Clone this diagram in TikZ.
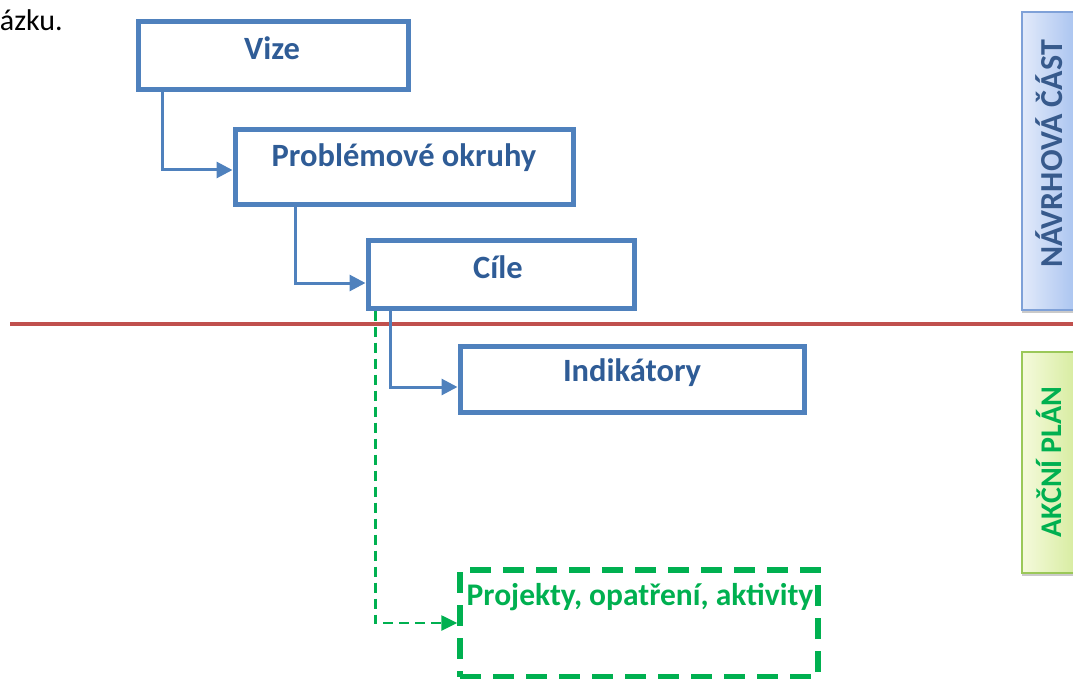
\documentclass[tikz,border=0pt]{standalone}
\usepackage{fontspec}
\setmainfont{Carlito}
\usetikzlibrary{arrows.meta,shadows}
\definecolor{boxblue}{HTML}{4F81BD}
\definecolor{txtblue}{HTML}{2F5C96}
\definecolor{sideblue}{HTML}{375A8C}
\definecolor{greenc}{HTML}{00B050}
\definecolor{redline}{HTML}{C0504D}
\tikzset{
  stagebox/.style={draw=boxblue, line width=5pt, inner sep=0pt},
  stagetext/.style={text=txtblue, font=\fontsize{32.5}{38}\selectfont\bfseries, inner sep=0pt},
  flow/.style={draw=boxblue, line width=3pt, -{Triangle[length=16pt,width=16pt]}},
  greenflow/.style={draw=greenc, line width=2.6pt, dash pattern=on 10pt off 6pt, -{Triangle[length=16pt,width=15pt]}},
  sidebox/.style={inner sep=0pt, line width=1.8pt},
}
\begin{document}
\begin{tikzpicture}[x=1pt,y=-1pt]
\useasboundingbox (0,0) rectangle (1073,679);
% top-left fragment
\node[anchor=east, font=\fontsize{30}{36}\selectfont, inner sep=0pt] (frag) at (63,20) {ázku.};
% stage boxes
\node[stagebox, minimum width=270pt, minimum height=68pt] (vize) at (273,56) {};
\node[stagebox, minimum width=338pt, minimum height=75pt] (probl) at (404,167.5) {};
\node[stagebox, minimum width=266pt, minimum height=68pt] (cile) at (501,274) {};
\node[stagebox, minimum width=344pt, minimum height=66pt] (indik) at (632,379) {};
\node[draw=greenc, line width=5.5pt, dash pattern=on 21pt off 12pt, minimum width=358pt, minimum height=107pt, inner sep=0pt] (proj) at (639,623.5) {};
% texts
\node[stagetext] (tvize) at (272,48) {Vize};
\node[stagetext] (tprobl) at (404,158) {Problémové okruhy};
\node[stagetext] (tcile) at (498,267) {Cíle};
\node[stagetext] (tindik) at (632,373) {Indikátory};
\node[stagetext, text=greenc, font=\fontsize{31.5}{38}\selectfont\bfseries] (tproj) at (640,597) {Projekty, opatření, aktivity};
% red divider
\coordinate (rl) at (10,324);
\coordinate (rr) at (1073,324);
\draw[redline, line width=3.5pt] (rl) -- (rr);
% side labels
\node[sidebox, draw={rgb,255:red,127;green,161;blue,216}, left color={rgb,255:red,226;green,234;blue,250}, right color={rgb,255:red,170;green,196;blue,240}, minimum width=54pt, minimum height=298pt, drop shadow={shadow xshift=0pt, shadow yshift=-3pt, fill=black!35, opacity=0.6}] (navrh) at (1049,161) {};
\node[rotate=90, text=sideblue, font=\fontsize{32}{38}\selectfont\bfseries, inner sep=0pt] (tnavrh) at (1049,154) {NÁVRHOVÁ ČÁST};
\node[sidebox, draw={rgb,255:red,155;green,200;blue,89}, left color={rgb,255:red,245;green,250;blue,220}, right color={rgb,255:red,215;green,236;blue,160}, minimum width=54pt, minimum height=221pt, drop shadow={shadow xshift=0pt, shadow yshift=-3pt, fill=black!35, opacity=0.6}] (akcni) at (1049,462.5) {};
\node[rotate=90, text=greenc, font=\fontsize{30}{36}\selectfont\bfseries, inner sep=0pt] (takcni) at (1049,462) {AKČNÍ PLÁN};
% connectors
\draw[flow] (vize.south west) ++(27,0) |- (probl.west |- 0,170);
\draw[flow] ([xshift=63pt]probl.south west) |- (cile.west |- 0,283);
\draw[flow] ([xshift=25pt]cile.south west) |- (indik.west |- 0,387);
\draw[greenflow] ([xshift=10pt]cile.south west) |- (proj.west |- 0,623);
\end{tikzpicture}
\end{document}
